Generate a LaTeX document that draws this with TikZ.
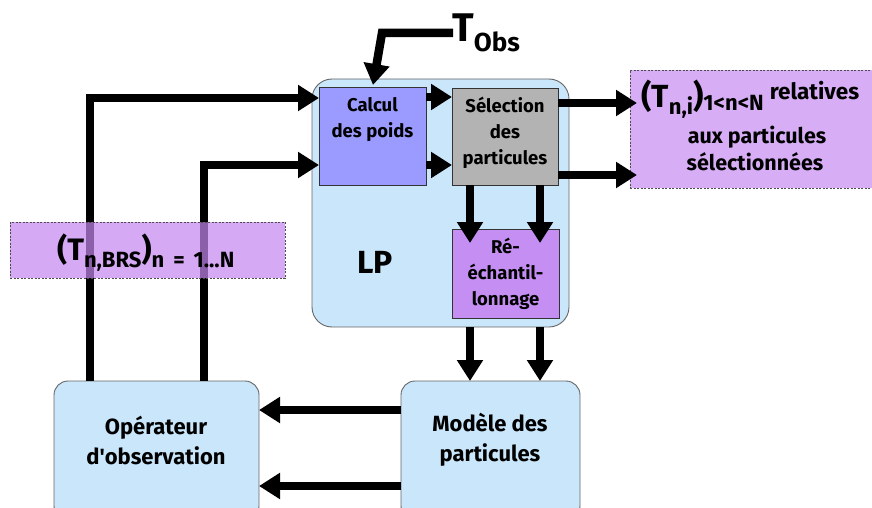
\documentclass[tikz,border=0pt]{standalone}
\usepackage{fontspec}
\setmainfont{Fira Sans}
\usetikzlibrary{arrows.meta,calc}
\definecolor{lpblue}{HTML}{C9E6FA}
\definecolor{calcc}{HTML}{9B9BFF}
\definecolor{selc}{HTML}{B3B3B3}
\definecolor{reec}{HTML}{C58EF2}
\definecolor{pinkc}{HTML}{D7AEF5}
\definecolor{pinkt}{HTML}{C586EF}
\definecolor{edgec}{HTML}{333333}
\newcommand\fsz[2]{\fontsize{#1}{#2}\selectfont}
\begin{document}
\begin{tikzpicture}[x=1pt,y=-1pt,
  font=\bfseries,
  blk/.style={draw=edgec,line width=0.9pt,inner sep=0pt,outer sep=0pt},
  rbox/.style={draw=black!60,line width=0.9pt,fill=lpblue,rounded corners=14pt,inner sep=0pt,outer sep=0pt},
  dbox/.style={draw=black!70,line width=0.8pt,dash pattern=on 2pt off 1.5pt,inner sep=0pt,outer sep=0pt},
  arr/.style={line width=8.5pt,-{Triangle[length=21pt,width=25pt]}},
  txt/.style={align=center,inner sep=0pt}]
\clip (0,0) rectangle (872,508);
\useasboundingbox (0,0) rectangle (872,508);
\fill[white] (0,0) rectangle (872,508);

% containers
\node[rbox,minimum width=257pt,minimum height=248pt,rounded corners=20pt] (lp) at (440.5,203) {};
\node[rbox,minimum width=205pt,minimum height=139pt] (op) at (156.5,450.5) {};
\node[rbox,minimum width=179pt,minimum height=139pt] (mod) at (490.5,450.5) {};

% inner blocks
\node[blk,fill=calcc,minimum width=107pt,minimum height=98pt] (calc) at (372.5,136) {};
\node[blk,fill=selc,minimum width=106pt,minimum height=97pt] (sel) at (505,136.5) {};
\node[blk,fill=reec,minimum width=107pt,minimum height=89pt] (ree) at (505.5,273.5) {};

% right output box
\node[dbox,fill=pinkc,minimum width=250pt,minimum height=118pt] (pink) at (755,129) {};

% texts
\node[txt,font=\bfseries\fsz{18.5}{26}] (calct) at (372.5,120) {Calcul\\des poids};
\node[txt,font=\bfseries\fsz{18.5}{26}] (selt) at (505,133) {Sélection\\des\\particules};
\node[txt,font=\bfseries\fsz{18.5}{26}] (reet) at (505.5,274) {Ré-\\échantil-\\lonnage};
\node[txt,font=\bfseries\fsz{32}{32}] (lpt) at (375,262) {LP};
\node[txt,font=\bfseries\fsz{22}{30}] (opt) at (156,440) {Opérateur\\d\textquotesingle observation};
\node[txt,font=\bfseries\fsz{22}{30}] (modt) at (490,440) {Modèle des\\particules};

\node[anchor=base west,inner sep=0pt] (tobs) at (452,42)
  {\fsz{40}{40}T\raisebox{-10pt}{\fsz{26}{26}Obs}};
\coordinate (tobsin) at (453,33);

\node[anchor=base west,inner sep=0pt] (tni) at (641,108)
  {\fsz{32}{32}(T\raisebox{-6pt}{\fsz{22}{22}n,i})\raisebox{-3pt}{\fsz{22}{22}1<n<N}\hspace{6pt}\raisebox{8pt}{\fsz{22.5}{22}relatives}};
\node[anchor=base,inner sep=0pt,font=\bfseries\fsz{21.5}{21}] (aux) at (757,143) {aux particules};
\node[anchor=base,inner sep=0pt,font=\bfseries\fsz{21.5}{21}] (sels) at (755,170) {sélectionnées};

% arrows
\draw[arr] (tobsin) -- (382,33) -- ($(calc.north west)+(54,-2)$);
\draw[arr] ($(op.north west)+(36,0)$) |- ($(calc.north west)+(0,11)$);
\draw[arr] ($(op.north west)+(150,0)$) |- ($(calc.north west)+(0,78)$);
\draw[arr] ($(calc.north east)+(0,10)$) -- ($(sel.north west)+(0,9)$);
\draw[arr] ($(calc.north east)+(0,78)$) -- ($(sel.north west)+(0,77)$);
\draw[arr] ($(sel.north east)+(0,15)$) -- ($(pink.north west)+(7,33)$);
\draw[arr] ($(sel.north east)+(0,87)$) -- ($(pink.north west)+(7,105)$);
\draw[arr] ($(sel.south west)+(18,0)$) -- ($(ree.north west)+(18,14)$);
\draw[arr] ($(sel.south west)+(88,0)$) -- ($(ree.north west)+(88,14)$);
\draw[arr] ($(lp.south west)+(158,0)$) -- ($(mod.north west)+(69,0)$);
\draw[arr] ($(lp.south west)+(228,0)$) -- ($(mod.north west)+(139,0)$);
\draw[arr] ($(mod.north west)+(0,29)$) -- ($(op.north east)+(0,29)$);
\draw[arr] ($(mod.north west)+(0,105)$) -- ($(op.north east)+(0,105)$);

% left semi-transparent box
\node[dbox,fill=pinkt,fill opacity=0.71,minimum width=275pt,minimum height=56pt] (brs) at (147.5,250) {};
\node[anchor=base west,inner sep=0pt] (brst) at (57,260)
  {\fsz{31}{31}(T\raisebox{-7pt}{\fsz{22}{22}n,BRS})\raisebox{-7pt}{\fsz{22}{22}n\hspace{9pt}=\hspace{9pt}1...N}};
\end{tikzpicture}
\end{document}
